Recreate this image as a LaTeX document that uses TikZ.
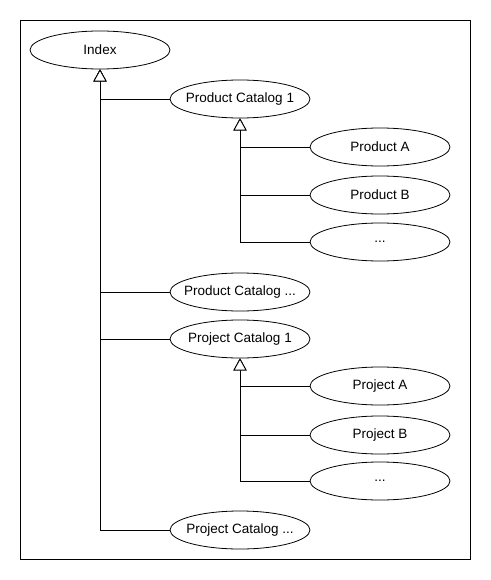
\documentclass[tikz,border=0pt]{standalone}
\usepackage{fontspec}
\setmainfont{Liberation Sans}
\usetikzlibrary{shapes.geometric,arrows.meta}
\begin{document}
\begin{tikzpicture}[x=1pt,y=-1pt,line width=0.8pt,
  every node/.style={draw,ellipse,minimum width=140pt,minimum height=38pt,
    inner xsep=-8pt,inner ysep=0pt,font=\fontsize{13.5}{15}\selectfont},
  inherit/.style={-{Triangle[open,length=12pt,width=13pt,fill=white]}}]
\useasboundingbox (0,0) rectangle (490,580);
\draw (20,20) rectangle (470,559);
\node (index) at (100,50) {Index};
\node (prodcat1) at (240,99) {Product Catalog 1};
\node (proda) at (380,147) {Product A};
\node (prodb) at (380,195) {Product B};
\node (prodmore) at (380,242) {...};
\node (prodcatmore) at (240,292) {Product Catalog ...};
\node (projcat1) at (240,339) {Project Catalog 1};
\node (proja) at (380,386) {Project A};
\node (projb) at (380,435) {Project B};
\node (projmore) at (380,481) {...};
\node (projcatmore) at (240,530) {Project Catalog ...};
\foreach \child in {prodcat1,prodcatmore,projcat1,projcatmore}
  \draw[inherit] (\child.west) -| (index.south);
\foreach \child in {proda,prodb,prodmore}
  \draw[inherit] (\child.west) -| (prodcat1.south);
\foreach \child in {proja,projb,projmore}
  \draw[inherit] (\child.west) -| (projcat1.south);
\end{tikzpicture}
\end{document}
